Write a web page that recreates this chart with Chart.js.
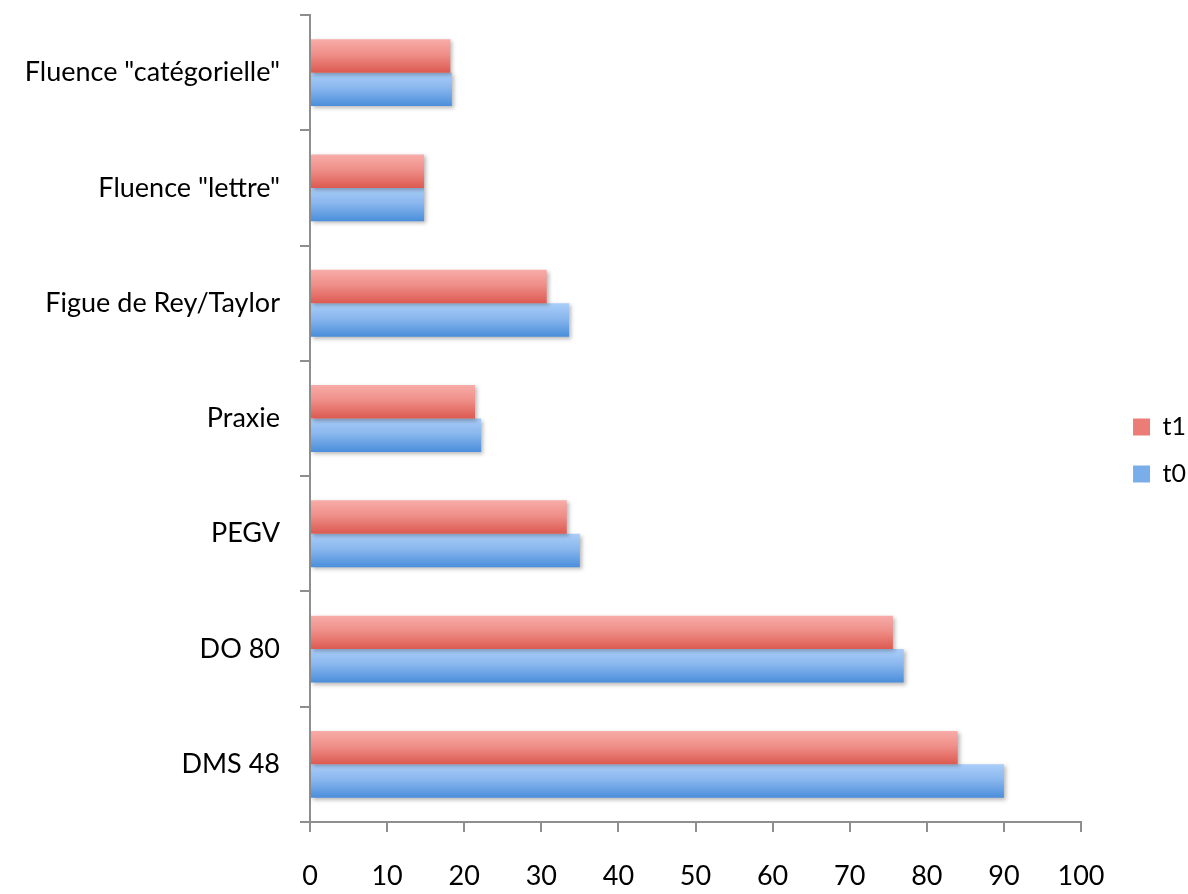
<!DOCTYPE html>
<html>
<head>
<meta charset="utf-8">
<script src="https://cdn.jsdelivr.net/npm/chart.js@4/dist/chart.umd.min.js"></script>
<style>
  html, body { margin: 0; padding: 0; background: #ffffff; }
  #wrap { width: 1188px; height: 894px; position: relative; }
</style>
</head>
<body>
<div id="wrap"><canvas id="chart" width="1188" height="894"></canvas></div>
<script>
// Test categories, top to bottom
const categories = [
  'Fluence "catégorielle"',
  'Fluence "lettre"',
  'Figue de Rey/Taylor',
  'Praxie',
  'PEGV',
  'DO 80',
  'DMS 48'
];
// Scores at the second assessment
const t1Values = [18.2, 14.8, 30.7, 21.4, 33.3, 75.6, 84];
// Scores at the first assessment
const t0Values = [18.4, 14.8, 33.6, 22.2, 35.0, 77.0, 90];
const xTicks = [0, 10, 20, 30, 40, 50, 60, 70, 80, 90, 100];

const FONT = 'Lato, "Open Sans", sans-serif';
const AXIS_GREY = '#8e8e8e';

// Glossy vertical gradient per bar, plus a soft drop shadow
const barShading = {
  id: 'barShading',
  beforeDatasetDraw(chart, args) {
    const ctx = chart.ctx;
    const palette = args.index === 0
      ? ['#f8aca8', '#ef8f89', '#dc5a51']
      : ['#aacef9', '#8ab7ee', '#4a8edb'];
    args.meta.data.forEach(el => {
      const top = el.y - el.height / 2;
      const g = ctx.createLinearGradient(0, top, 0, top + el.height);
      g.addColorStop(0, palette[0]);
      g.addColorStop(0.45, palette[1]);
      g.addColorStop(1, palette[2]);
      el.options = Object.assign({}, el.options, { backgroundColor: g });
    });
    ctx.save();
    ctx.shadowColor = 'rgba(0,0,0,0.28)';
    ctx.shadowBlur = 4;
    ctx.shadowOffsetX = 2;
    ctx.shadowOffsetY = 2;
  },
  afterDatasetDraw(chart) {
    chart.ctx.restore();
  }
};

// Empty layout box that keeps a gap between the plot and the legend
const legendGap = {
  id: 'legendGap',
  beforeInit(chart) {
    const gap = {
      position: 'right',
      weight: 500,
      fullSize: false,
      options: {},
      width: 30,
      height: 0,
      isHorizontal() { return false; },
      update(maxWidth, maxHeight) { this.width = 30; this.height = maxHeight; },
      draw() {}
    };
    Chart.layouts.addBox(chart, gap);
  }
};

new Chart(document.getElementById('chart'), {
  type: 'bar',
  data: {
    labels: categories,
    datasets: [
      { label: 't1', data: t1Values, backgroundColor: '#ec7d76', borderWidth: 0 },
      { label: 't0', data: t0Values, backgroundColor: '#7aaeea', borderWidth: 0 }
    ]
  },
  options: {
    indexAxis: 'y',
    responsive: false,
    animation: false,
    categoryPercentage: 0.58,
    barPercentage: 1.0,
    layout: { padding: { top: 15, right: -8, bottom: 8, left: 0 } },
    plugins: {
      tooltip: { enabled: false },
      legend: {
        position: 'right',
        align: 'center',
        labels: {
          color: '#000',
          font: { family: FONT, size: 25 },
          boxWidth: 17,
          boxHeight: 17,
          padding: 22
        }
      }
    },
    scales: {
      x: {
        min: 0,
        max: 100,
        afterBuildTicks(scale) { scale.ticks = xTicks.map(v => ({ value: v })); },
        afterFit(scale) { scale.height = 64; scale.paddingLeft = 0; scale.paddingRight = 0; },
        border: { display: true, color: AXIS_GREY, width: 2 },
        grid: { drawOnChartArea: false, drawTicks: true, tickLength: 10, color: AXIS_GREY, lineWidth: 2 },
        ticks: { color: '#000', font: { family: FONT, size: 27 }, padding: 28 }
      },
      y: {
        afterFit(scale) { scale.width = 310; scale.paddingTop = 0; scale.paddingBottom = 0; },
        border: { display: true, color: AXIS_GREY, width: 2 },
        grid: { drawOnChartArea: false, drawTicks: true, tickLength: 10, color: AXIS_GREY, lineWidth: 2, offset: true },
        ticks: { color: '#000', font: { family: FONT, size: 27 }, padding: 20 }
      }
    }
  },
  plugins: [barShading, legendGap]
});
</script>
</body>
</html>
